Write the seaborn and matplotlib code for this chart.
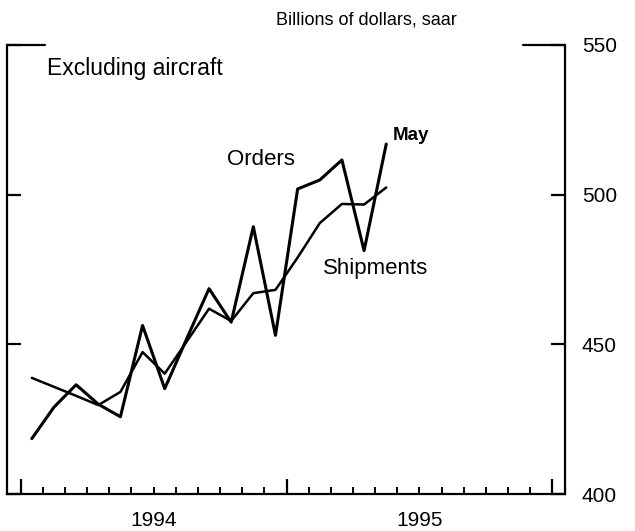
import pandas as pd
import seaborn as sns
import matplotlib.pyplot as plt

sns.set_style('white')
plt.rcParams['font.family'] = ['Liberation Sans', 'DejaVu Sans']
plt.rcParams['text.color'] = 'black'
plt.rcParams['xtick.color'] = 'black'
plt.rcParams['ytick.color'] = 'black'

# monthly data, Jan 1994 - May 1995 (billions of dollars, saar)
months = list(range(17))
orders = [418.5, 429.0, 436.5, 430.0, 425.8, 456.3, 435.2, 452.0, 468.6,
          457.4, 489.3, 453.0, 501.9, 504.9, 511.6, 481.3, 516.9]
shipments = [438.8, 435.8, 432.8, 429.7, 434.1, 447.4, 440.2, 451.0, 461.9,
             457.8, 467.1, 468.2, 479.0, 490.5, 496.9, 496.7, 502.4]
year_labels = ['1994', '1995']
y_ticks = [400, 450, 500, 550]

df = pd.DataFrame({
    'month': [m + 0.5 for m in months] * 2,
    'value': orders + shipments,
    'series': ['Orders'] * len(orders) + ['Shipments'] * len(shipments),
})

fig = plt.figure(figsize=(6.35, 5.31), dpi=100)
ax = fig.add_axes([7 / 635, 1 - 494 / 531, 558 / 635, 449 / 531])

sns.lineplot(data=df, x='month', y='value', hue='series', size='series',
             palette={'Orders': 'black', 'Shipments': 'black'},
             sizes={'Orders': 2.2, 'Shipments': 1.8},
             legend=False, ax=ax)

ax.set_xlim(-0.62, 24.57)
ax.set_ylim(400, 550)
ax.set_xlabel('')
ax.set_ylabel('')

# axes frame
for side in ['left', 'right', 'bottom']:
    ax.spines[side].set_linewidth(1.6)
    ax.spines[side].set_color('black')
ax.spines['top'].set_visible(False)
ax.axhline(550, xmin=0, xmax=0.068, color='black', lw=1.6, clip_on=False)
ax.axhline(550, xmin=0.925, xmax=1, color='black', lw=1.6, clip_on=False)

# x ticks: months, years marked
ax.set_xticks([0, 12, 24])
ax.set_xticks(range(25), minor=True)
ax.set_xticklabels([])
ax.tick_params(axis='x', which='major', direction='in', length=11, width=1.6, bottom=True)
ax.tick_params(axis='x', which='minor', direction='in', length=5, width=1.4, bottom=True)
for i, lab in enumerate(year_labels):
    ax.text(6 + 12 * i, -0.058, lab, transform=ax.get_xaxis_transform(),
            ha='center', va='center', fontsize=15)

# y ticks on both sides, labels on right
ax.set_yticks(y_ticks)
ax.tick_params(axis='y', direction='in', length=10, width=1.6, left=True, right=True,
               labelleft=False, labelright=True, pad=12, labelsize=15)

ax.text(1.19, 542, 'Excluding aircraft', fontsize=16.5, ha='left', va='center')
ax.text(10.85, 511.7, 'Orders', fontsize=16, ha='center', va='center')
ax.text(16.0, 475.3, 'Shipments', fontsize=16, ha='center', va='center')
ax.text(17.6, 519.7, 'May', fontsize=13.5, fontweight='bold', ha='center', va='center')
fig.text(457 / 635, 1 - 20 / 531, 'Billions of dollars, saar', fontsize=13,
         ha='right', va='center')

fig.savefig('out.png', dpi=100)
